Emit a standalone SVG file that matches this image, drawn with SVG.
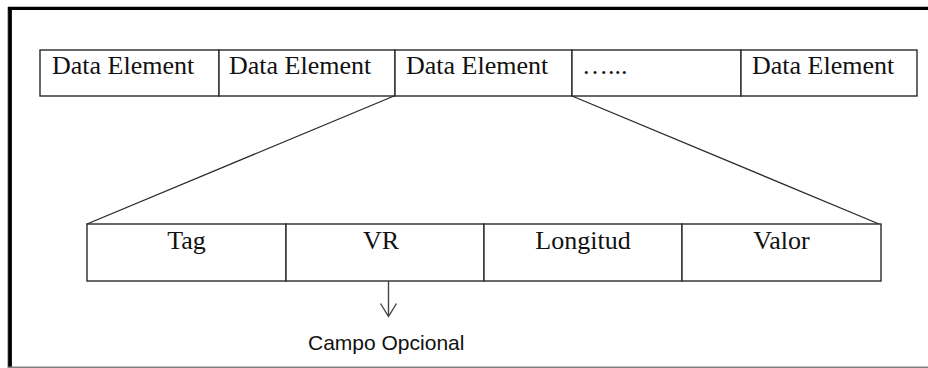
<svg xmlns="http://www.w3.org/2000/svg" width="928" height="368" viewBox="0 0 928 368">
  <defs>
    <style>
      .cell { fill: #ffffff; stroke: #2a2a2a; stroke-width: 1.4; }
      .serif { font-family: "Liberation Serif", "Times New Roman", serif; font-size: 26px; fill: #111111; }
      .sans { font-family: "Liberation Sans", Arial, sans-serif; font-size: 21px; fill: #111111; }
      .link { stroke: #2a2a2a; stroke-width: 1.3; fill: none; }
      .arrow { stroke: #444444; stroke-width: 1.4; fill: none; }
    </style>
  </defs>

  <rect width="928" height="368" fill="#ffffff"/>

  <!-- page frame: heavy top and left edges, light bottom rule -->
  <g id="frame">
    <line x1="7.5" y1="7" x2="7.5" y2="368" stroke="#bbbbbb" stroke-width="1"/>
    <line x1="8" y1="8.4" x2="928" y2="8.4" stroke="#000000" stroke-width="3.3"/>
    <line x1="10" y1="7" x2="10" y2="367" stroke="#000000" stroke-width="3.8"/>
    <line x1="8" y1="367.3" x2="928" y2="367.3" stroke="#808080" stroke-width="1.4"/>
  </g>

  <!-- data element sequence -->
  <g id="de1">
    <rect class="cell" x="40" y="50" width="179" height="46"/>
    <text class="serif" x="52" y="74">Data Element</text>
  </g>
  <g id="de2">
    <rect class="cell" x="219" y="50" width="176" height="46"/>
    <text class="serif" x="229" y="74">Data Element</text>
  </g>
  <g id="de3">
    <rect class="cell" x="395" y="50" width="177" height="46"/>
    <text class="serif" x="406" y="74">Data Element</text>
  </g>
  <g id="de-more">
    <rect class="cell" x="572" y="50" width="169" height="46"/>
    <text class="serif" x="582" y="74">…...</text>
  </g>
  <g id="de-last">
    <rect class="cell" x="741" y="50" width="176" height="46"/>
    <text class="serif" x="752" y="74">Data Element</text>
  </g>

  <!-- expanded element fields -->
  <g id="tag">
    <rect class="cell" x="87" y="224" width="199" height="57"/>
    <text class="serif" x="186.5" y="248.5" text-anchor="middle">Tag</text>
  </g>
  <g id="vr">
    <rect class="cell" x="286" y="224" width="198" height="57"/>
    <text class="serif" x="381" y="248.5" text-anchor="middle">VR</text>
  </g>
  <g id="longitud">
    <rect class="cell" x="484" y="224" width="198" height="57"/>
    <text class="serif" x="583" y="248.5" text-anchor="middle">Longitud</text>
  </g>
  <g id="valor">
    <rect class="cell" x="682" y="224" width="199" height="57"/>
    <text class="serif" x="781.5" y="248.5" text-anchor="middle">Valor</text>
  </g>

  <g id="note">
    <text class="sans" x="308" y="350">Campo Opcional</text>
  </g>

  <!-- connectors -->
  <g id="connectors">
    <line class="link" x1="394" y1="96" x2="87" y2="224"/>
    <line class="link" x1="572" y1="96" x2="879" y2="224"/>
    <path class="arrow" d="M388.5 281 V316.5 M380.5 303.5 L388.5 316.5 L396.5 303.5"/>
  </g>
</svg>
